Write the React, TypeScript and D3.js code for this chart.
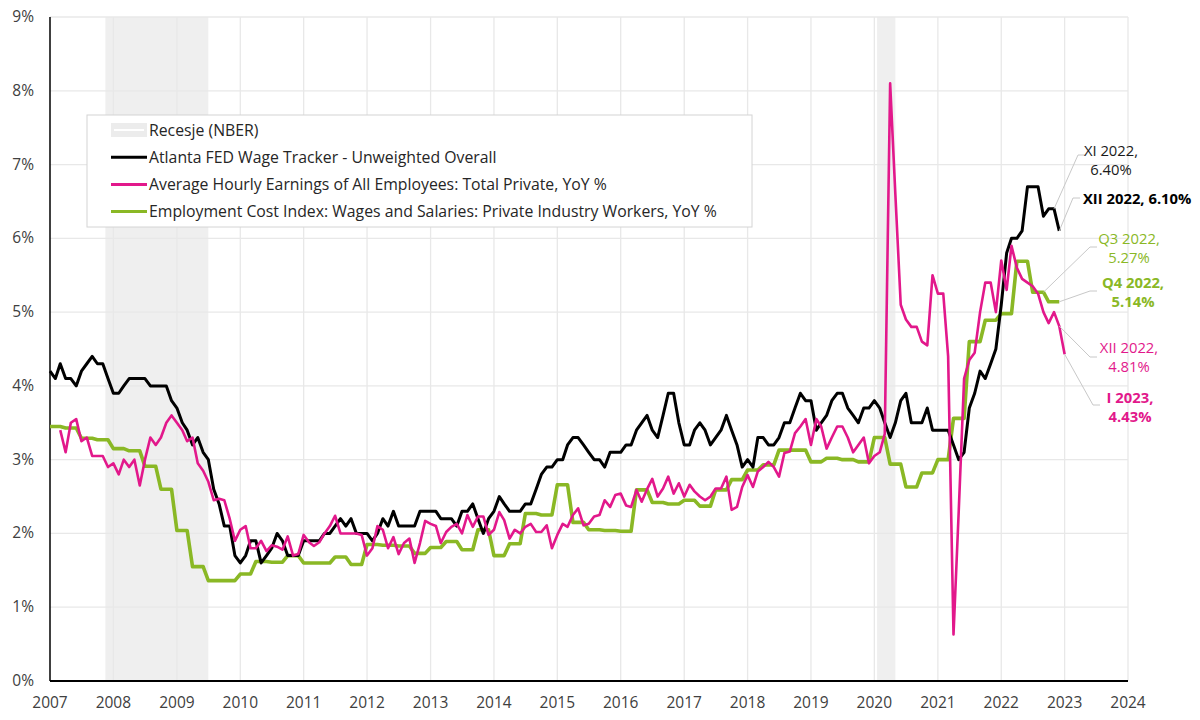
import * as d3 from "d3"
import { useEffect, useRef } from "react"

// Atlanta FED Wage Growth Tracker, monthly from 2007-01
const ATLANTA_START = "2007-01"
const atlantaFed = [
  4.2, 4.1, 4.3, 4.1, 4.1, 4.0, 4.2, 4.3, 4.4, 4.3, 4.3, 4.1,
  3.9, 3.9, 4.0, 4.1, 4.1, 4.1, 4.1, 4.0, 4.0, 4.0, 4.0, 3.8,
  3.7, 3.5, 3.4, 3.2, 3.3, 3.1, 3.0, 2.6, 2.4, 2.1, 2.1, 1.7,
  1.6, 1.7, 1.9, 1.9, 1.6, 1.7, 1.8, 2.0, 1.9, 1.7, 1.7, 1.7,
  1.9, 1.9, 1.9, 1.9, 2.0, 2.0, 2.1, 2.2, 2.1, 2.2, 2.0, 2.0,
  2.0, 1.9, 2.0, 2.2, 2.1, 2.3, 2.1, 2.1, 2.1, 2.1, 2.3, 2.3,
  2.3, 2.3, 2.2, 2.2, 2.2, 2.1, 2.3, 2.3, 2.4, 2.2, 2.0, 2.2,
  2.3, 2.5, 2.4, 2.3, 2.3, 2.3, 2.4, 2.4, 2.6, 2.8, 2.9, 2.9,
  3.0, 3.0, 3.2, 3.3, 3.3, 3.2, 3.1, 3.0, 3.0, 2.9, 3.1, 3.1,
  3.1, 3.2, 3.2, 3.4, 3.5, 3.6, 3.4, 3.3, 3.6, 3.9, 3.9, 3.5,
  3.2, 3.2, 3.4, 3.5, 3.4, 3.2, 3.3, 3.4, 3.6, 3.4, 3.2, 2.9,
  3.0, 2.9, 3.3, 3.3, 3.2, 3.2, 3.3, 3.5, 3.5, 3.7, 3.9, 3.8,
  3.8, 3.4, 3.5, 3.6, 3.8, 3.9, 3.9, 3.7, 3.6, 3.5, 3.7, 3.7,
  3.8, 3.7, 3.5, 3.3, 3.5, 3.8, 3.9, 3.5, 3.5, 3.5, 3.7, 3.4,
  3.4, 3.4, 3.4, 3.2, 3.0, 3.1, 3.7, 3.9, 4.2, 4.1, 4.3, 4.5,
  5.1, 5.8, 6.0, 6.0, 6.1, 6.7, 6.7, 6.7, 6.3, 6.4, 6.4, 6.1,
]

// Average Hourly Earnings YoY, monthly from 2007-03
const AHE_START = "2007-03"
const hourlyEarnings = [
  3.4, 3.1, 3.5, 3.55, 3.25, 3.3, 3.05, 3.05, 3.05, 2.9,
  2.95, 2.8, 3.0, 2.9, 3.0, 2.65, 3.0, 3.3, 3.2, 3.3, 3.5, 3.6,
  3.5, 3.4, 3.25, 3.3, 2.95, 2.85, 2.7, 2.45, 2.47, 2.45, 2.2, 1.9,
  2.05, 2.1, 1.8, 1.8, 1.9, 1.76, 1.84, 1.82, 1.78, 1.96, 1.7, 1.72,
  1.98, 1.88, 1.83, 1.88, 2.0, 2.1, 2.24, 2.0, 2.0, 2.0, 2.0, 1.98,
  1.7, 1.8, 2.1, 2.05, 1.8, 1.95, 1.72, 1.87, 1.93, 1.6, 1.87, 2.17,
  2.13, 2.1, 1.87, 2.02, 2.09, 2.13, 2.0, 2.25, 2.09, 2.23, 2.23, 1.98,
  2.05, 2.29, 2.18, 1.93, 2.05, 2.0, 2.09, 2.13, 2.02, 2.02, 2.11, 1.8,
  1.98, 2.13, 2.09, 2.25, 2.34, 2.11, 2.13, 2.23, 2.25, 2.45, 2.36, 2.52,
  2.54, 2.38, 2.36, 2.59, 2.43, 2.6, 2.74, 2.5, 2.61, 2.77, 2.54, 2.68,
  2.5, 2.66, 2.57, 2.5, 2.45, 2.5, 2.61, 2.61, 2.77, 2.32, 2.36, 2.63,
  2.79, 2.63, 2.84, 2.9, 2.97, 2.9, 2.77, 3.09, 3.11, 3.36, 3.45, 3.55,
  3.2, 3.55, 3.45, 3.15, 3.3, 3.45, 3.45, 3.3, 3.1, 3.2, 3.3, 2.95,
  3.05, 3.1, 3.35, 8.1, 6.6, 5.1, 4.9, 4.8, 4.8, 4.6, 4.55, 5.5,
  5.25, 5.25, 4.4, 0.63, 2.3, 4.1, 4.35, 4.45, 5.0, 5.4, 5.4, 5.0,
  5.7, 5.3, 5.9, 5.6, 5.45, 5.4, 5.35, 5.25, 5.0, 4.85, 5.0, 4.81,
  4.43,
]

// Employment Cost Index YoY, quarterly from 2007 Q1
const ECI_START = "2007-01"
const costIndexQuarterly = [
  3.45, 3.43, 3.29, 3.27,
  3.15, 3.12, 2.91, 2.6,
  2.04, 1.55, 1.36, 1.36,
  1.45, 1.62, 1.61, 1.7,
  1.6, 1.6, 1.68, 1.58,
  1.85, 1.84, 1.83, 1.73,
  1.81, 1.89, 1.78, 2.05,
  1.7, 1.86, 2.27, 2.25,
  2.66, 2.15, 2.05, 2.04,
  2.03, 2.59, 2.42, 2.4,
  2.45, 2.37, 2.59, 2.73,
  2.86, 2.93, 3.13, 3.13,
  2.97, 3.02, 3.0, 2.97,
  3.3, 2.94, 2.63, 2.82,
  3.0, 3.56, 4.6, 4.89,
  4.98, 5.69, 5.27, 5.14,
]

// NBER recessions, first and last month
const recessions = [
  ["2007-12", "2009-06"],
  ["2020-02", "2020-04"],
]

const yearTicks = d3.range(2007, 2025)
const percentTicks = d3.range(0, 10)

const BLACK = "#000000"
const PINK = "#e2188b"
const GREEN = "#8ab825"

const parseMonth = d3.timeParse("%Y-%m")
const monthly = (start: string, values: number[]) => {
  const t0 = parseMonth(start)!
  return values.map((v, i) => ({ date: d3.timeMonth.offset(t0, i), value: v }))
}

export default function App() {
  const ref = useRef<SVGSVGElement>(null)

  useEffect(() => {
    document.body.style.margin = "0"
    const svg = d3.select(ref.current)
    svg.selectAll("*").remove()

    const left = 50
    const right = 1128
    const top = 17
    const bottom = 681

    const x = d3
      .scaleTime()
      .domain([new Date(2007, 0, 1), new Date(2024, 0, 1)])
      .range([left, right])
    const y = d3.scaleLinear().domain([0, 9]).range([bottom, top])

    const wages = monthly(ATLANTA_START, atlantaFed)
    const earnings = monthly(AHE_START, hourlyEarnings)
    // quarterly values held for the three months of each quarter
    const eci = monthly(
      ECI_START,
      costIndexQuarterly.flatMap((v) => [v, v, v]),
    )

    // recession shading
    svg
      .append("g")
      .selectAll("rect")
      .data(recessions)
      .enter()
      .append("rect")
      .attr("x", (d) => x(d3.timeDay.offset(parseMonth(d[0])!, -15)))
      .attr("width", (d) =>
        x(d3.timeMonth.offset(parseMonth(d[1])!, 1)) -
        x(d3.timeDay.offset(parseMonth(d[0])!, -15)),
      )
      .attr("y", top)
      .attr("height", bottom - top)
      .attr("fill", "#efefef")

    // gridlines
    const grid = svg.append("g").attr("stroke", "#e8e8e8").attr("stroke-width", 1.3)
    percentTicks.slice(1).forEach((p) => {
      grid
        .append("line")
        .attr("x1", left)
        .attr("x2", right)
        .attr("y1", y(p))
        .attr("y2", y(p))
    })
    yearTicks.slice(1).forEach((yr) => {
      const px = x(new Date(yr, 0, 1))
      grid
        .append("line")
        .attr("x1", px)
        .attr("x2", px)
        .attr("y1", top)
        .attr("y2", bottom)
    })

    // axis lines
    svg
      .append("line")
      .attr("x1", left)
      .attr("x2", left)
      .attr("y1", top)
      .attr("y2", bottom)
      .attr("stroke", "#000")
      .attr("stroke-width", 1.5)
    svg
      .append("line")
      .attr("x1", left)
      .attr("x2", right)
      .attr("y1", bottom)
      .attr("y2", bottom)
      .attr("stroke", "#000")
      .attr("stroke-width", 2)

    // tick labels
    const labels = svg
      .append("g")
      .attr("font-size", 15.5)
      .attr("fill", "#404040")
    percentTicks.forEach((p) => {
      labels
        .append("text")
        .attr("x", 34)
        .attr("y", y(p) + 5)
        .attr("text-anchor", "end")
        .text(`${p}%`)
    })
    yearTicks.forEach((yr) => {
      labels
        .append("text")
        .attr("x", x(new Date(yr, 0, 1)))
        .attr("y", 708)
        .attr("text-anchor", "middle")
        .text(yr)
    })

    // series
    const line = d3
      .line<{ date: Date; value: number }>()
      .x((d) => x(d.date))
      .y((d) => y(d.value))

    const series = [
      { data: eci, color: GREEN, width: 3.6 },
      { data: wages, color: BLACK, width: 3 },
      { data: earnings, color: PINK, width: 2.6 },
    ]
    series.forEach((s) => {
      svg
        .append("path")
        .attr("d", line(s.data))
        .attr("fill", "none")
        .attr("stroke", s.color)
        .attr("stroke-width", s.width)
        .attr("stroke-linejoin", "round")
    })

    // legend
    const legend = svg.append("g")
    legend
      .append("rect")
      .attr("x", 87)
      .attr("y", 115)
      .attr("width", 665)
      .attr("height", 112)
      .attr("fill", "#fff")
      .attr("stroke", "#d4d4d4")
    const legendItems = [
      { label: "Recesje (NBER)", color: null },
      { label: "Atlanta FED Wage Tracker - Unweighted Overall", color: BLACK },
      { label: "Average Hourly Earnings of All Employees: Total Private, YoY %", color: PINK },
      { label: "Employment Cost Index: Wages and Salaries: Private Industry Workers, YoY %", color: GREEN },
    ]
    legendItems.forEach((item, i) => {
      const cy = 130 + i * 27.2
      if (item.color) {
        legend
          .append("line")
          .attr("x1", 111)
          .attr("x2", 147)
          .attr("y1", cy)
          .attr("y2", cy)
          .attr("stroke", item.color)
          .attr("stroke-width", 3)
      } else {
        legend
          .append("rect")
          .attr("x", 111)
          .attr("y", cy - 7)
          .attr("width", 36)
          .attr("height", 14)
          .attr("fill", "#ececec")
        legend
          .append("line")
          .attr("x1", 114)
          .attr("x2", 144)
          .attr("y1", cy)
          .attr("y2", cy)
          .attr("stroke", "#fff")
          .attr("stroke-width", 2)
      }
      legend
        .append("text")
        .attr("x", 149)
        .attr("y", cy + 5.5)
        .attr("font-size", 15.8)
        .attr("fill", "#262626")
        .text(item.label)
    })

    // end-of-series callouts
    const fmt = (v: number) => `${v.toFixed(2)}%`
    const lastOf = <T,>(a: T[], k = 1) => a[a.length - k]
    const callouts = [
      {
        point: lastOf(wages, 2),
        lines: ["XI 2022,", fmt(lastOf(wages, 2).value)],
        color: "#1a1a1a",
        bold: false,
        tx: 1111,
        ty: 156,
        elbow: [1078, 155],
        anchor: "middle",
      },
      {
        point: lastOf(wages),
        lines: [`XII 2022, ${fmt(lastOf(wages).value)}`],
        color: "#000",
        bold: true,
        tx: 1083,
        ty: 204,
        elbow: [1073, 198],
        anchor: "start",
      },
      {
        point: lastOf(eci, 4),
        lines: ["Q3 2022,", fmt(lastOf(eci, 4).value)],
        color: GREEN,
        bold: false,
        tx: 1129,
        ty: 244,
        elbow: [1090, 247],
        anchor: "middle",
      },
      {
        point: lastOf(eci),
        lines: ["Q4 2022,", fmt(lastOf(eci).value)],
        color: GREEN,
        bold: true,
        tx: 1133,
        ty: 288,
        elbow: [1090, 291],
        anchor: "middle",
      },
      {
        point: lastOf(earnings, 2),
        lines: ["XII 2022,", fmt(lastOf(earnings, 2).value)],
        color: PINK,
        bold: false,
        tx: 1129,
        ty: 353,
        elbow: [1090, 357],
        anchor: "middle",
      },
      {
        point: lastOf(earnings),
        lines: ["I 2023,", fmt(lastOf(earnings).value)],
        color: PINK,
        bold: true,
        tx: 1130,
        ty: 403,
        elbow: [1093, 405],
        anchor: "middle",
      },
    ]
    const notes = svg.append("g").attr("font-size", 14.8)
    callouts.forEach((c) => {
      const px = x(c.point.date)
      const py = y(c.point.value)
      notes
        .append("polyline")
        .attr(
          "points",
          `${px},${py} ${c.elbow[0]},${c.elbow[1]} ${c.elbow[0] + 7},${c.elbow[1]}`,
        )
        .attr("fill", "none")
        .attr("stroke", "#c8c8c8")
        .attr("stroke-width", 1)
      const t = notes
        .append("text")
        .attr("x", c.tx)
        .attr("y", c.ty)
        .attr("text-anchor", c.anchor)
        .attr("fill", c.color)
        .attr("font-weight", c.bold ? 700 : 400)
      c.lines.forEach((ln, i) => {
        t.append("tspan")
          .attr("x", c.tx)
          .attr("dy", i === 0 ? 0 : 19)
          .text(ln)
      })
    })
  }, [])

  return (
    <svg
      ref={ref}
      width={1200}
      height={720}
      style={{
        display: "block",
        background: "#fff",
        fontFamily: "'Open Sans', 'Noto Sans', sans-serif",
      }}
    />
  )
}
